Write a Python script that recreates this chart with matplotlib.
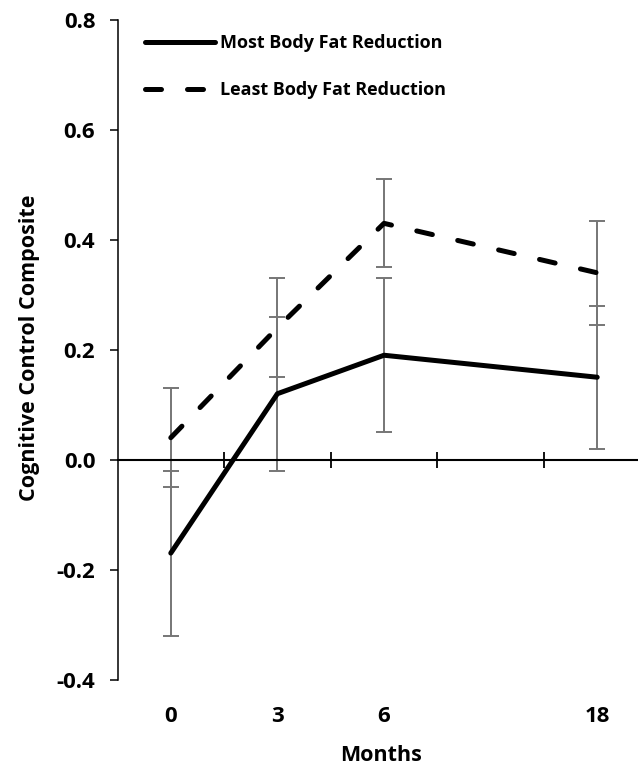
import matplotlib
matplotlib.use("Agg")
import matplotlib.pyplot as plt
from matplotlib.ticker import FixedLocator, FormatStrFormatter

plt.rcParams["font.family"] = ["Open Sans", "DejaVu Sans"]
plt.rcParams["font.weight"] = "bold"
plt.rcParams["axes.unicode_minus"] = False

# Assessment months and their slot on the category axis (slot 3 is left empty)
months = ["0", "3", "6", "18"]
month_slots = [0, 1, 2, 4]
n_slots = 5

# Cognitive control composite means and error-bar half widths
most_fat_loss = [-0.17, 0.12, 0.19, 0.15]
most_fat_loss_err = [0.15, 0.14, 0.14, 0.13]
least_fat_loss = [0.04, 0.24, 0.43, 0.34]
least_fat_loss_err = [0.09, 0.09, 0.08, 0.095]

series_labels = ["Most Body Fat Reduction", "Least Body Fat Reduction"]

W, H = 638, 770
fig = plt.figure(figsize=(W / 100, H / 100), dpi=100)
ax = fig.add_axes([117.5 / W, 1 - 679.5 / H, 533 / W, 659.5 / H])

err_style = dict(ecolor="#767676", elinewidth=1.4, capsize=5.5, capthick=1.4, zorder=2)

ax.errorbar(month_slots, most_fat_loss, yerr=most_fat_loss_err, fmt="none", **err_style)
ax.errorbar(month_slots, least_fat_loss, yerr=least_fat_loss_err, fmt="none", **err_style)

ax.plot(month_slots, most_fat_loss, color="black", lw=3.6, solid_capstyle="round",
        solid_joinstyle="round", label=series_labels[0], zorder=3)
ax.plot(month_slots, least_fat_loss, color="black", lw=3.6, linestyle=(0, (3.2, 5.2)),
        dash_capstyle="round", label=series_labels[1], zorder=3)

ax.set_xlim(-0.5, n_slots - 0.5)
ax.set_ylim(-0.4, 0.8)

# y axis
ax.yaxis.set_major_locator(FixedLocator([-0.4, -0.2, 0.0, 0.2, 0.4, 0.6, 0.8]))
ax.yaxis.set_major_formatter(FormatStrFormatter("%.1f"))
ax.tick_params(axis="y", direction="out", length=6, width=1.1, pad=10, labelsize=16)
ax.spines["left"].set_linewidth(1.1)
ax.spines["right"].set_visible(False)
ax.spines["bottom"].set_visible(False)

# zero line with slot-boundary ticks, month labels along the bottom
ax.spines["top"].set_position(("data", 0))
ax.spines["top"].set_linewidth(1.5)
ax.xaxis.set_major_locator(FixedLocator(month_slots))
ax.set_xticklabels(months)
ax.xaxis.set_minor_locator(FixedLocator([s + 0.5 for s in range(n_slots - 1)]))
ax.tick_params(axis="x", which="major", bottom=True, top=False, length=0, pad=19,
               labelsize=16)
ax.tick_params(axis="x", which="minor", bottom=False, top=True, direction="inout",
               length=12, width=1.3)

ax.set_xlabel("Months", fontsize=15.5, fontweight="bold")
ax.set_ylabel("Cognitive Control Composite", fontsize=15.5, fontweight="bold")
ax.xaxis.set_label_coords(381 / W, 1 - 745 / H, transform=fig.transFigure)
ax.yaxis.set_label_coords(40 / W, 1 - 348 / H, transform=fig.transFigure)

leg = ax.legend(loc="upper left", bbox_to_anchor=(145 / W, 1 - 34 / H),
                bbox_transform=fig.transFigure, frameon=False, fontsize=13,
                handlelength=3.9, handletextpad=0.25, labelspacing=1.6,
                borderaxespad=0, borderpad=0)

fig.savefig("out.png", dpi=100)
